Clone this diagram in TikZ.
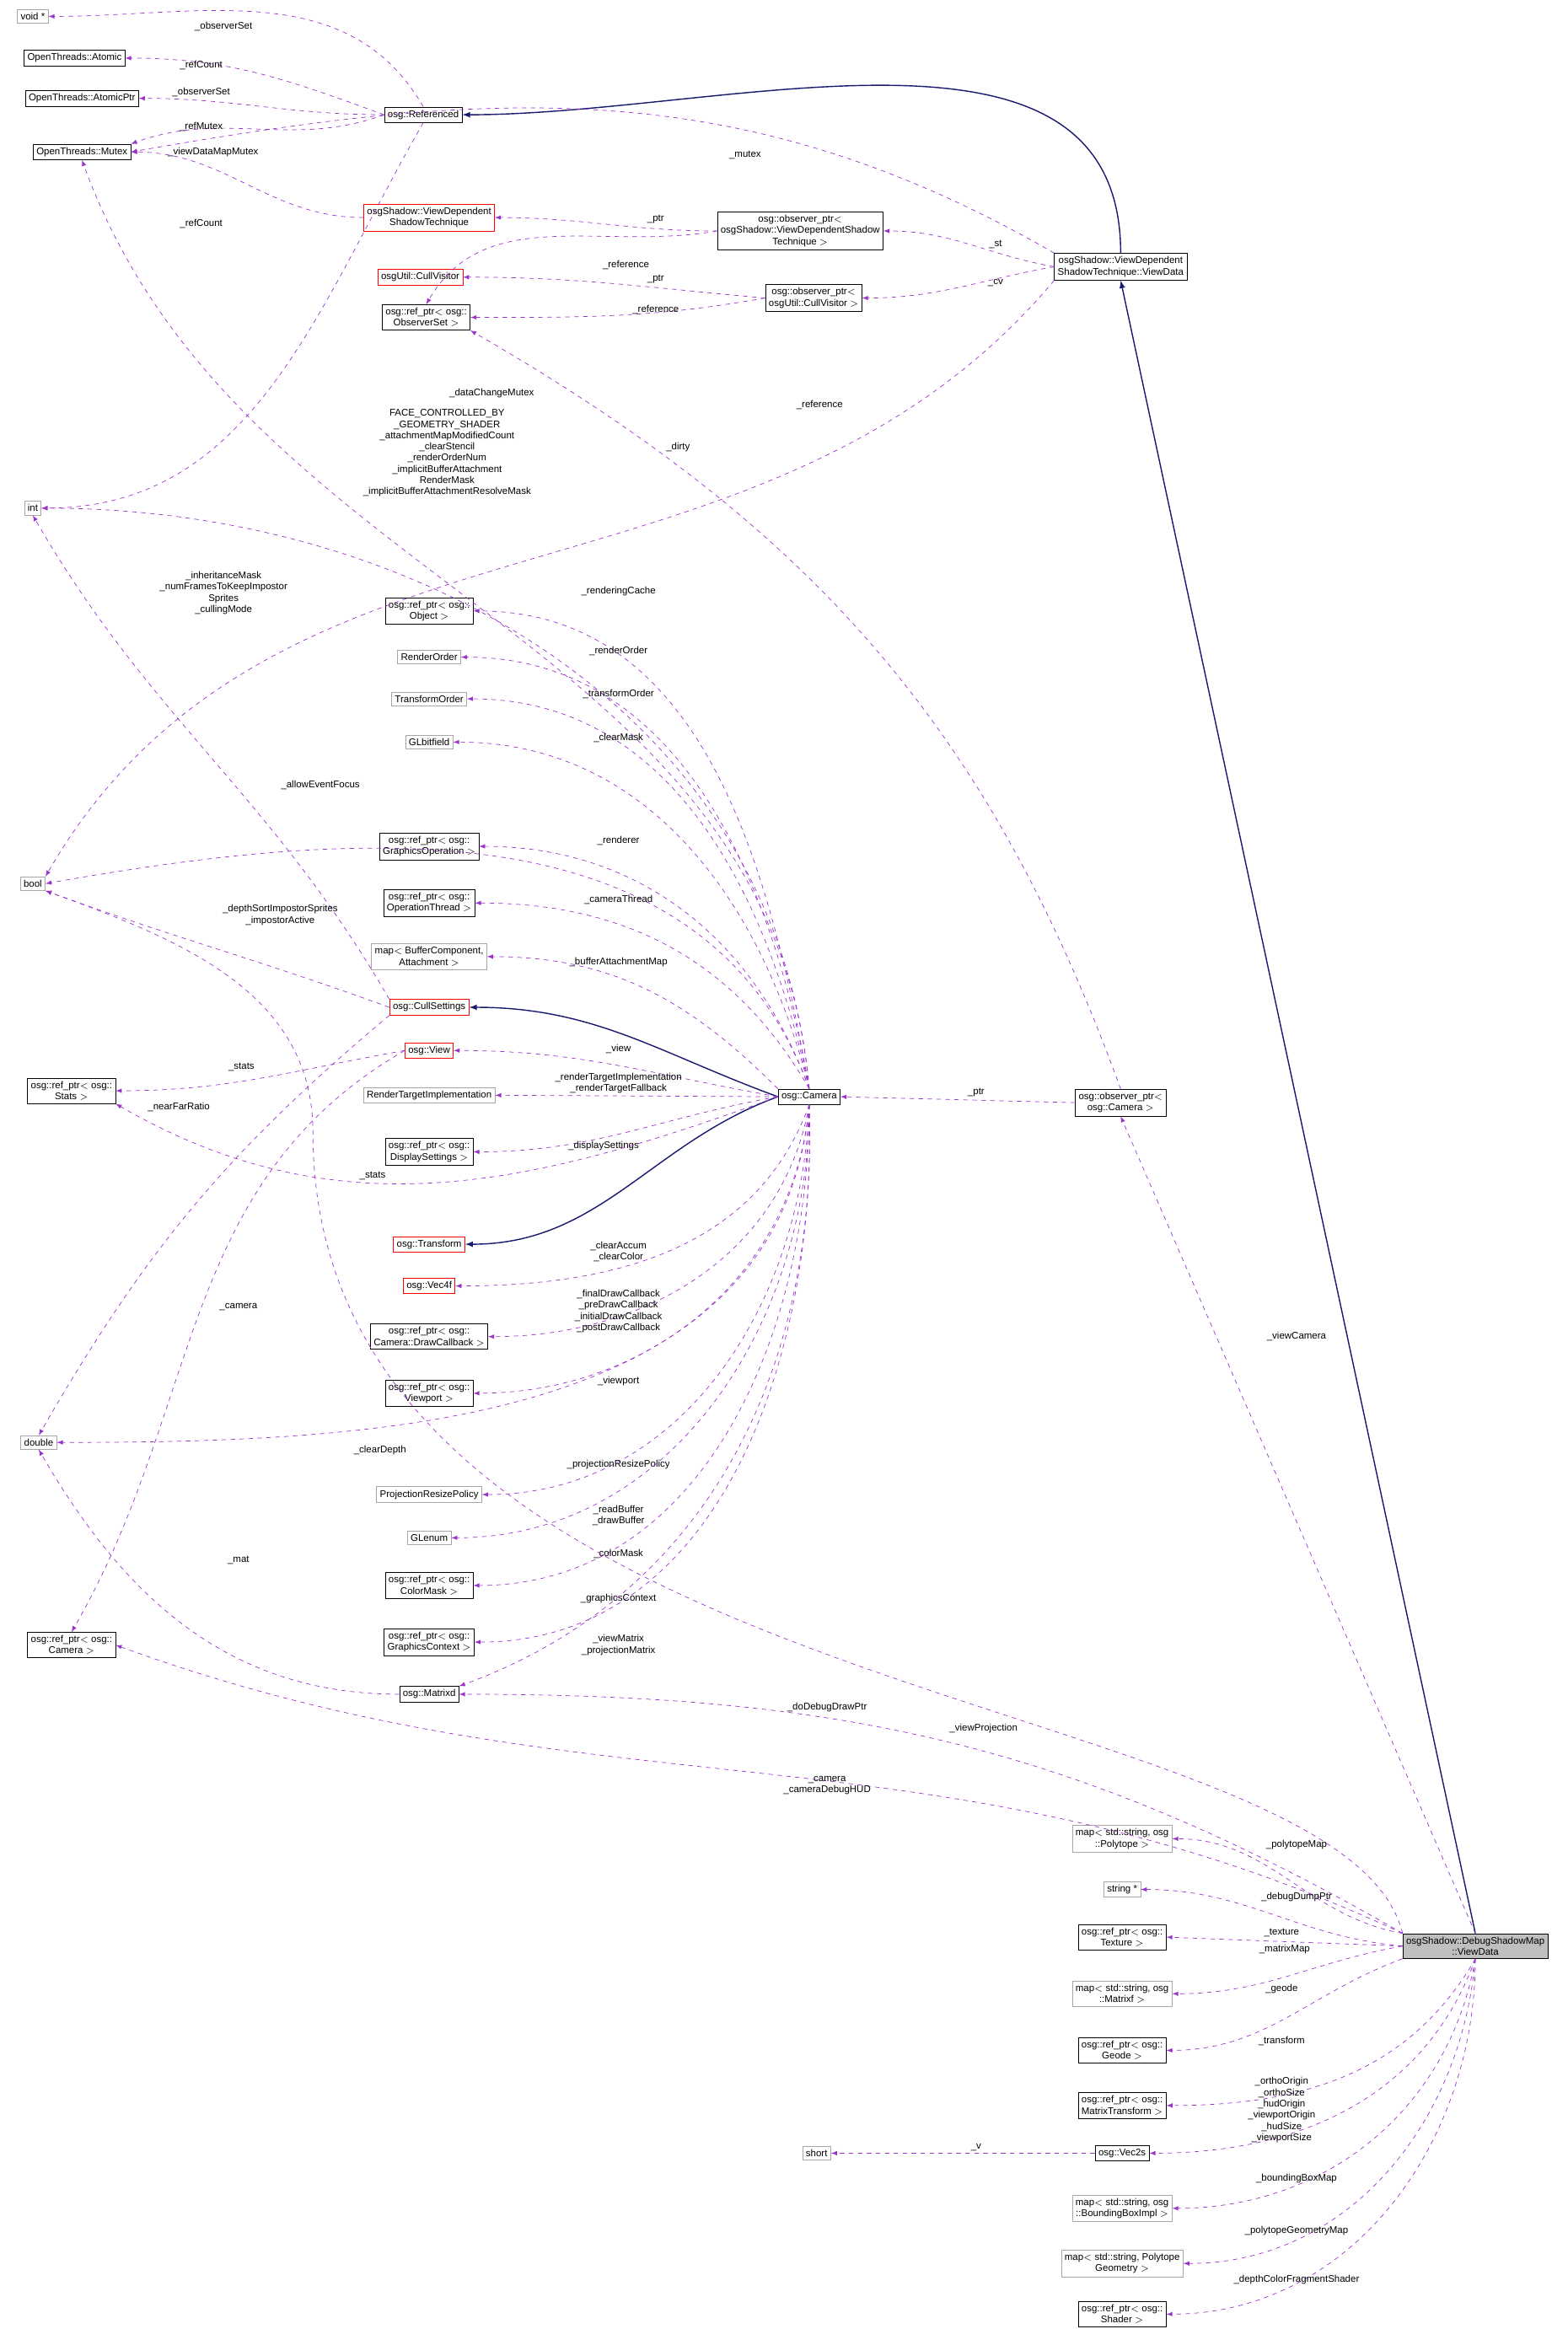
\documentclass[tikz,border=0pt]{standalone}
\usepackage{fontspec}
\setmainfont{Liberation Sans}
\usetikzlibrary{arrows,positioning}
\definecolor{usecol}{HTML}{9A32CD}
\definecolor{inhcol}{HTML}{191970}
\tikzset{%
  font=\fontsize{6.5}{7.5}\selectfont,>=latex,
  cls/.style={draw,rectangle,inner sep=2.2pt,align=center,fill=white},
  undoc/.style={cls,draw=black!35},
  redcls/.style={cls,draw=red},
  self/.style={cls,fill=black!25},
  use/.style={draw=usecol,dashed,->,>=latex},
  inh/.style={draw=inhcol,thick,->,>=latex},
  lab/.style={align=center,inner sep=0pt}
}
\begin{document}
\begin{tikzpicture}[x=1pt,y=-1pt]
\useasboundingbox (0,0) rectangle (1052,1563);
% left column
\node[undoc] (voidp) at (22,11) {void *};
\node[cls] (atomic) at (50,39) {OpenThreads::Atomic};
\node[cls] (atomicptr) at (55,66) {OpenThreads::AtomicPtr};
\node[cls] (mutex) at (55,102) {OpenThreads::Mutex};
\node[undoc] (int) at (22,341) {int};
\node[undoc] (bool) at (22,593) {bool};
\node[cls] (stats) at (48,732) {osg::ref\_ptr$<$ osg::\\Stats $>$};
\node[undoc] (double) at (26,968) {double};
\node[cls] (camref) at (48,1104) {osg::ref\_ptr$<$ osg::\\Camera $>$};
% upper middle
\node[cls] (referenced) at (284,77) {osg::Referenced};
\node[redcls] (vdst) at (288,146) {osgShadow::ViewDependent\\ShadowTechnique};
\node[redcls] (cullvis) at (282,186) {osgUtil::CullVisitor};
\node[cls] (obsset) at (286,213) {osg::ref\_ptr$<$ osg::\\ObserverSet $>$};
\node[cls] (obsvdst) at (537,155) {osg::observer\_ptr$<$\\osgShadow::ViewDependentShadow\\Technique $>$};
\node[cls] (obscv) at (546,200) {osg::observer\_ptr$<$\\osgUtil::CullVisitor $>$};
\node[cls] (vdvd) at (752,179) {osgShadow::ViewDependent\\ShadowTechnique::ViewData};
% middle column
\node[cls] (object) at (288,410) {osg::ref\_ptr$<$ osg::\\Object $>$};
\node[undoc] (rorder) at (288,441) {RenderOrder};
\node[undoc] (torder) at (288,469) {TransformOrder};
\node[undoc] (glbit) at (288,498) {GLbitfield};
\node[cls] (gop) at (288,568) {osg::ref\_ptr$<$ osg::\\GraphicsOperation $>$};
\node[cls] (opthread) at (288,606) {osg::ref\_ptr$<$ osg::\\OperationThread $>$};
\node[undoc] (bufmap) at (288,642) {map$<$ BufferComponent,\\Attachment $>$};
\node[redcls] (cullset) at (288,676) {osg::CullSettings};
\node[redcls] (view) at (288,705) {osg::View};
\node[undoc] (rti) at (288,735) {RenderTargetImplementation};
\node[cls] (dispset) at (288,773) {osg::ref\_ptr$<$ osg::\\DisplaySettings $>$};
\node[redcls] (transform) at (288,835) {osg::Transform};
\node[redcls] (vecf) at (288,863) {osg::Vec4f};
\node[cls] (drawcb) at (288,897) {osg::ref\_ptr$<$ osg::\\Camera::DrawCallback $>$};
\node[cls] (viewport) at (288,935) {osg::ref\_ptr$<$ osg::\\Viewport $>$};
\node[undoc] (prp) at (288,1003) {ProjectionResizePolicy};
\node[undoc] (glenum) at (288,1032) {GLenum};
\node[cls] (colmask) at (288,1064) {osg::ref\_ptr$<$ osg::\\ColorMask $>$};
\node[cls] (gctx) at (288,1102) {osg::ref\_ptr$<$ osg::\\GraphicsContext $>$};
\node[cls] (matrixd) at (288,1137) {osg::Matrixd};
\node[cls] (camera) at (543,736) {osg::Camera};
\node[cls] (obscam) at (752,740) {osg::observer\_ptr$<$\\osg::Camera $>$};
% lower right column
\node[undoc] (polymap) at (753,1234) {map$<$ std::string, osg\\::Polytope $>$};
\node[undoc] (strp) at (753,1268) {string *};
\node[cls] (texture) at (753,1300) {osg::ref\_ptr$<$ osg::\\Texture $>$};
\node[undoc] (mfmap) at (753,1338) {map$<$ std::string, osg\\::Matrixf $>$};
\node[cls] (geode) at (753,1376) {osg::ref\_ptr$<$ osg::\\Geode $>$};
\node[cls] (mtrans) at (753,1413) {osg::ref\_ptr$<$ osg::\\MatrixTransform $>$};
\node[undoc] (short) at (548,1445) {short};
\node[cls] (vec2s) at (753,1445) {osg::Vec2s};
\node[undoc] (bbmap) at (753,1482) {map$<$ std::string, osg\\::BoundingBoxImpl $>$};
\node[undoc] (pgmap) at (753,1519) {map$<$ std::string, Polytope\\Geometry $>$};
\node[cls] (shader) at (753,1553) {osg::ref\_ptr$<$ osg::\\Shader $>$};
\node[self] (dsm) at (990,1306) {osgShadow::DebugShadowMap\\::ViewData};
% inheritance
\draw[inh] (vdvd.north) to[out=90,in=0] (referenced.east);
\draw[inh] (dsm.north) -- (vdvd.south);
\draw[inh] (camera.west) to[out=160,in=0] (cullset.east);
\draw[inh] (camera.west) to[out=200,in=0] (transform.east);
% Referenced
\draw[use] (150,18) node[lab]{\_observerSet} (referenced.north) to[out=120,in=0] (voidp.east);
\draw[use] (135,44) node[lab]{\_refCount} (referenced.west) to[out=160,in=0] (atomic.east);
\draw[use] (135,62) node[lab]{\_observerSet} (referenced.west) to[out=180,in=0] (atomicptr.east);
\draw[use] (135,85) node[lab]{\_refMutex} (referenced.west) to[out=200,in=20] (mutex.north east);
\draw[use] (135,150) node[lab]{\_refCount} (referenced.south) to[out=240,in=0] (int.east);
\draw[use] (143,102) node[lab]{\_viewDataMapMutex} (vdst.west) to[out=180,in=0] (mutex.east);
\draw[use] (500,104) node[lab]{\_mutex} (vdvd.north west) to[out=150,in=10] (mutex.east);
\draw[use] (440,147) node[lab]{\_ptr} (obsvdst.west) to[out=180,in=0] (vdst.east);
\draw[use] (420,178) node[lab]{\_reference} (obsvdst.west) to[out=190,in=60] (obsset.north);
\draw[use] (440,187) node[lab]{\_ptr} (obscv.west) to[out=175,in=0] (cullvis.east);
\draw[use] (440,208) node[lab]{\_reference} (obscv.west) to[out=190,in=0] (obsset.east);
\draw[use] (668,164) node[lab]{\_st} (vdvd.west) to[out=170,in=0] (obsvdst.east);
\draw[use] (668,190) node[lab]{\_cv} (vdvd.west) to[out=190,in=0] (obscv.east);
\draw[use] (455,300) node[lab]{\_dirty} (vdvd.south west) to[out=230,in=60] (bool.north east);
\draw[use] (550,272) node[lab]{\_reference} (obscam.north) to[out=110,in=-30] (obsset.south east);
\draw[use] (655,733) node[lab]{\_ptr} (obscam.west) -- (camera.east);
% Camera
\draw[use] (330,264) node[lab]{\_dataChangeMutex} (camera.north) to[out=95,in=-70] (mutex.south);
\draw[use] (300,304) node[lab]{FACE\_CONTROLLED\_BY\\\_GEOMETRY\_SHADER\\\_attachmentMapModifiedCount\\\_clearStencil\\\_renderOrderNum\\\_implicitBufferAttachment\\RenderMask\\\_implicitBufferAttachmentResolveMask} (camera.north) to[out=95,in=0] (int.east);
\draw[use] (415,397) node[lab]{\_renderingCache} (camera.north) to[out=100,in=0] (object.east);
\draw[use] (415,437) node[lab]{\_renderOrder} (camera.north) to[out=100,in=0] (rorder.east);
\draw[use] (415,466) node[lab]{\_transformOrder} (camera.north) to[out=102,in=0] (torder.east);
\draw[use] (415,495) node[lab]{\_clearMask} (camera.north) to[out=104,in=0] (glbit.east);
\draw[use] (215,527) node[lab]{\_allowEventFocus} (camera.north) to[out=110,in=10] (bool.east);
\draw[use] (415,564) node[lab]{\_renderer} (camera.north) to[out=110,in=0] (gop.east);
\draw[use] (415,604) node[lab]{\_cameraThread} (camera.north) to[out=120,in=0] (opthread.east);
\draw[use] (415,646) node[lab]{\_bufferAttachmentMap} (camera.north west) to[out=135,in=0] (bufmap.east);
\draw[use] (415,704) node[lab]{\_view} (camera.west) to[out=170,in=0] (view.east);
\draw[use] (415,727) node[lab]{\_renderTargetImplementation\\\_renderTargetFallback} (camera.west) -- (rti.east);
\draw[use] (405,769) node[lab]{\_displaySettings} (camera.west) to[out=190,in=0] (dispset.east);
\draw[use] (250,789) node[lab]{\_stats} (camera.west) to[out=200,in=-30] (stats.south east);
\draw[use] (415,840) node[lab]{\_clearAccum\\\_clearColor} (camera.south) to[out=-110,in=0] (vecf.east);
\draw[use] (415,880) node[lab]{\_finalDrawCallback\\\_preDrawCallback\\\_initialDrawCallback\\\_postDrawCallback} (camera.south) to[out=-100,in=0] (drawcb.east);
\draw[use] (415,927) node[lab]{\_viewport} (camera.south) to[out=-95,in=0] (viewport.east);
\draw[use] (255,973) node[lab]{\_clearDepth} (camera.south) to[out=-95,in=0] (double.east);
\draw[use] (415,983) node[lab]{\_projectionResizePolicy} (camera.south) to[out=-92,in=0] (prp.east);
\draw[use] (415,1017) node[lab]{\_readBuffer\\\_drawBuffer} (camera.south) to[out=-90,in=0] (glenum.east);
\draw[use] (415,1043) node[lab]{\_colorMask} (camera.south) to[out=-90,in=0] (colmask.east);
\draw[use] (415,1073) node[lab]{\_graphicsContext} (camera.south) to[out=-88,in=0] (gctx.east);
\draw[use] (415,1104) node[lab]{\_viewMatrix\\\_projectionMatrix} (camera.south) to[out=-88,in=20] (matrixd.north east);
% CullSettings, View, Matrixd
\draw[use] (150,398) node[lab]{\_inheritanceMask\\\_numFramesToKeepImpostor\\Sprites\\\_cullingMode} (cullset.north west) to[out=120,in=-60] (int.south);
\draw[use] (188,614) node[lab]{\_depthSortImpostorSprites\\\_impostorActive} (cullset.west) to[out=160,in=-20] (bool.south east);
\draw[use] (120,743) node[lab]{\_nearFarRatio} (cullset.south west) to[out=220,in=60] (double.north);
\draw[use] (162,716) node[lab]{\_stats} (view.west) to[out=190,in=0] (stats.east);
\draw[use] (160,877) node[lab]{\_camera} (view.west) to[out=210,in=60] (camref.north);
\draw[use] (160,1047) node[lab]{\_mat} (matrixd.west) to[out=180,in=-60] (double.south);
% DebugShadowMap::ViewData
\draw[use] (555,1146) node[lab]{\_doDebugDrawPtr} (dsm.north west) .. controls (900,1130) and (210,1150) .. (210,760) to[out=90,in=-20] (bool.south east);
\draw[use] (660,1160) node[lab]{\_viewProjection} (dsm.north west) to[out=150,in=0] (matrixd.east);
\draw[use] (555,1198) node[lab]{\_camera\\\_cameraDebugHUD} (dsm.north west) to[out=155,in=-20] (camref.east);
\draw[use] (870,897) node[lab]{\_viewCamera} (dsm.north) -- (obscam.south);
\draw[use] (870,1238) node[lab]{\_polytopeMap} (dsm.north west) to[out=170,in=0] (polymap.east);
\draw[use] (870,1273) node[lab]{\_debugDumpPtr} (dsm.west) to[out=175,in=0] (strp.east);
\draw[use] (860,1297) node[lab]{\_texture} (dsm.west) -- (texture.east);
\draw[use] (862,1308) node[lab]{\_matrixMap} (dsm.west) to[out=190,in=0] (mfmap.east);
\draw[use] (860,1335) node[lab]{\_geode} (dsm.south west) to[out=200,in=0] (geode.east);
\draw[use] (860,1370) node[lab]{\_transform} (dsm.south) to[out=-120,in=0] (mtrans.east);
\draw[use] (860,1416) node[lab]{\_orthoOrigin\\\_orthoSize\\\_hudOrigin\\\_viewportOrigin\\\_hudSize\\\_viewportSize} (dsm.south) to[out=-110,in=0] (vec2s.east);
\draw[use] (655,1441) node[lab]{\_v} (vec2s.west) -- (short.east);
\draw[use] (870,1462) node[lab]{\_boundingBoxMap} (dsm.south) to[out=-100,in=0] (bbmap.east);
\draw[use] (870,1497) node[lab]{\_polytopeGeometryMap} (dsm.south) to[out=-95,in=0] (pgmap.east);
\draw[use] (870,1530) node[lab]{\_depthColorFragmentShader} (dsm.south) to[out=-90,in=0] (shader.east);
\end{tikzpicture}
\end{document}
